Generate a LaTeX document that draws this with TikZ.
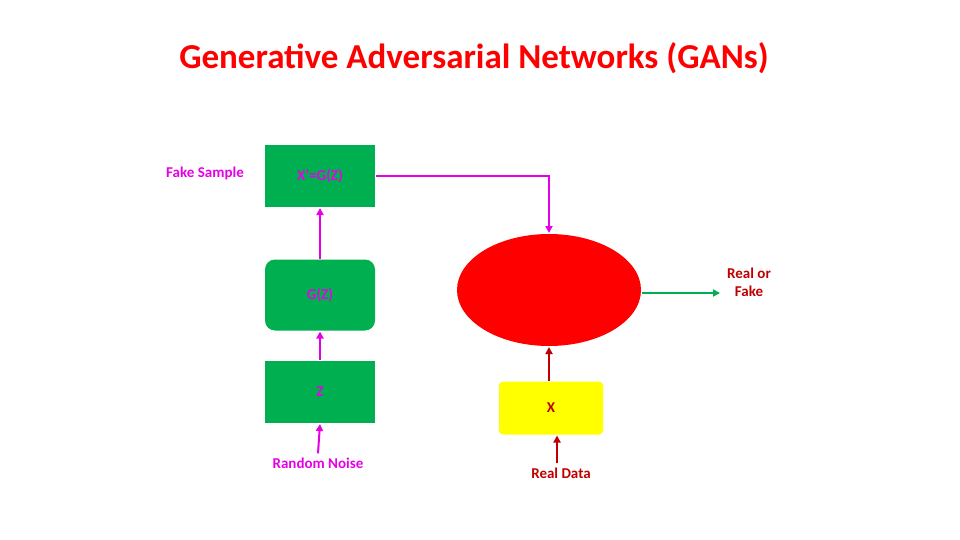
\documentclass[tikz,border=0pt]{standalone}
\usepackage{fontspec}
\setmainfont{Carlito}
\usetikzlibrary{arrows.meta,shapes.geometric}
\definecolor{gangreen}{RGB}{0,176,80}
\definecolor{ganpink}{RGB}{230,0,230}
\definecolor{ganred}{RGB}{255,0,0}
\definecolor{gandark}{RGB}{192,0,0}
\definecolor{ganyellow}{RGB}{255,255,0}
\begin{document}
\begin{tikzpicture}[x=1pt,y=-1pt,>={Triangle[length=7pt,width=7pt]},
    line width=2pt, font=\fontsize{15}{18}\selectfont\bfseries]
  \tikzset{gbox/.style={fill=gangreen,draw=none,minimum width=110pt,minimum height=62pt,
      inner sep=0pt,text=ganpink}}
  \useasboundingbox (0,0) rectangle (960,540);

  \node[text=ganred,font=\fontsize{35}{40}\selectfont\bfseries] (title) at (474,58)
    {Generative Adversarial Networks (GANs)};

  \node[gbox] (xp) at (320,176) {X'=G(Z)};
  \node[gbox,rounded corners=10pt,minimum height=71pt] (gz) at (320,295) {G(Z)};
  \node[gbox] (z) at (320,392) {Z};
  \node[fill=ganred,ellipse,minimum width=184pt,minimum height=112pt] (d) at (549,290) {};
  \node[fill=ganyellow,rounded corners=4pt,minimum width=104pt,minimum height=53pt,
    text=gandark] (x) at (551,408) {X};

  \node[text=ganpink] (fake) at (205,173) {Fake Sample};
  \node[text=ganpink] (noise) at (318,463) {Random Noise};
  \node[text=gandark] (real) at (561,473) {Real Data};
  \node[text=gandark,align=center] (out) at (749,282) {Real or\\Fake};
  \coordinate (turn) at (549,176);
  \coordinate (outin) at (720,293);

  \draw[->,ganpink] (z.north) -- (gz.south);
  \draw[->,ganpink] (gz.north) -- (xp.south);
  \draw[->,ganpink] (noise.north) -- (z.south);
  \draw[->,ganpink] (xp.east) -- (turn) -- (d.north);
  \draw[->,gandark] (x.north -| d.south) -- (d.south);
  \draw[->,gandark] (real.north -| 557,0) -- (x.south -| 557,0);
  \draw[->,gangreen] (d.east |- outin) -- (outin);
\end{tikzpicture}
\end{document}
